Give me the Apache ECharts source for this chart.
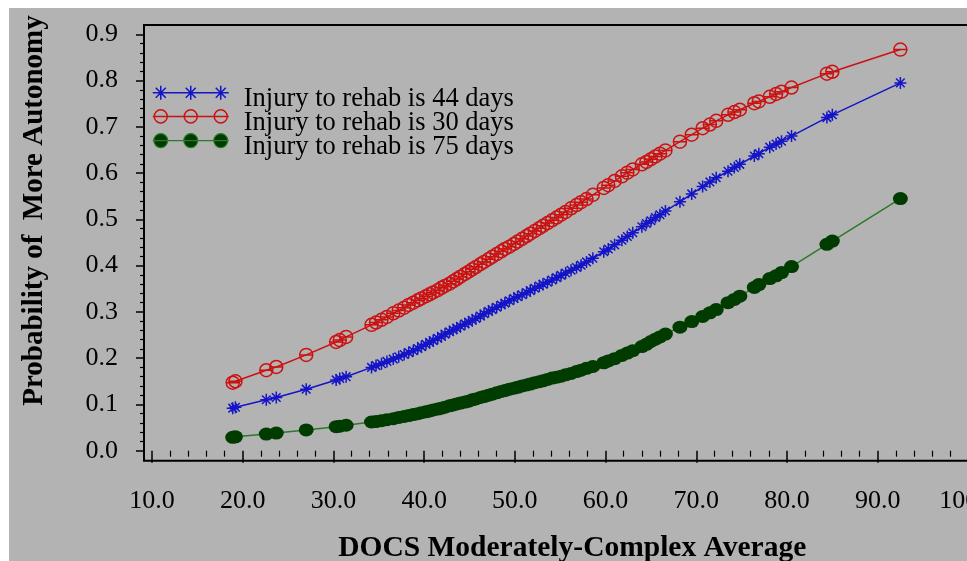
<!DOCTYPE html>
<html>
<head>
<meta charset="utf-8">
<script src="https://cdn.jsdelivr.net/npm/echarts@6/dist/echarts.min.js"></script>
<style>
  html, body { margin: 0; padding: 0; background: #ffffff; }
  #wrap { position: relative; width: 967px; height: 561px; background: #ffffff; overflow: hidden; }
  #bg { position: absolute; left: 9px; top: 8px; width: 958px; height: 553px; background: #b3b3b3; }
  #chart { position: absolute; left: 0; top: 0; width: 967px; height: 561px; }
</style>
</head>
<body>
<div id="wrap"><div id="bg"></div><div id="chart"></div></div>
<script>
// DOCS Moderately-Complex Average (shared x values)
const xValues = [18.9, 19.2, 22.6, 23.7, 27.0, 30.3, 30.7, 31.4, 34.2, 34.7, 35.3, 35.9, 36.6, 37.2, 37.8, 38.3, 38.8, 39.3, 39.7, 40.2,
  40.6, 41.0, 41.5, 41.9, 42.3, 42.8, 43.2, 43.6, 44.0, 44.5, 44.9, 45.3, 45.7, 46.2, 46.6, 47.1, 47.5, 48.0, 48.5, 48.9,
  49.4, 49.9, 50.3, 50.8, 51.3, 51.7, 52.2, 52.7, 53.1, 53.6, 54.1, 54.6, 55.1, 55.6, 56.2, 56.8, 57.3, 57.9, 58.6, 59.8,
  60.3, 61.0, 61.8, 62.4, 63.0, 64.0, 64.5, 65.0, 65.5, 66.0, 66.6, 68.2, 69.5, 70.7, 71.5, 72.2, 73.5, 74.2, 74.8, 76.4,
  76.9, 78.1, 78.8, 79.4, 80.5, 84.4, 85.0, 92.5];
// Injury to rehab is 44 days
const prob44 = [0.092, 0.094, 0.110, 0.115, 0.133, 0.153, 0.156, 0.160, 0.180, 0.184, 0.188, 0.193, 0.198, 0.203, 0.208, 0.212, 0.216, 0.221, 0.225, 0.230,
  0.234, 0.238, 0.243, 0.247, 0.252, 0.257, 0.261, 0.265, 0.269, 0.274, 0.278, 0.282, 0.286, 0.291, 0.296, 0.301, 0.305, 0.310, 0.315, 0.319,
  0.324, 0.329, 0.333, 0.337, 0.342, 0.346, 0.351, 0.356, 0.360, 0.364, 0.369, 0.374, 0.379, 0.384, 0.390, 0.396, 0.401, 0.408, 0.416, 0.430,
  0.436, 0.445, 0.455, 0.463, 0.471, 0.484, 0.491, 0.497, 0.504, 0.510, 0.518, 0.538, 0.555, 0.571, 0.581, 0.590, 0.604, 0.612, 0.619, 0.637,
  0.642, 0.656, 0.663, 0.669, 0.680, 0.720, 0.726, 0.795];
// Injury to rehab is 30 days
const prob30 = [0.147, 0.150, 0.174, 0.181, 0.207, 0.235, 0.239, 0.246, 0.272, 0.277, 0.283, 0.289, 0.297, 0.303, 0.309, 0.315, 0.320, 0.325, 0.329, 0.334,
  0.338, 0.342, 0.347, 0.352, 0.356, 0.361, 0.366, 0.371, 0.376, 0.382, 0.387, 0.392, 0.397, 0.403, 0.408, 0.414, 0.419, 0.425, 0.431, 0.436,
  0.441, 0.447, 0.452, 0.458, 0.464, 0.469, 0.475, 0.481, 0.486, 0.492, 0.498, 0.504, 0.510, 0.516, 0.524, 0.531, 0.537, 0.544, 0.553, 0.568,
  0.574, 0.583, 0.593, 0.601, 0.608, 0.619, 0.624, 0.630, 0.636, 0.642, 0.649, 0.668, 0.683, 0.697, 0.705, 0.713, 0.726, 0.732, 0.737, 0.751,
  0.755, 0.765, 0.771, 0.776, 0.785, 0.815, 0.819, 0.867];
// Injury to rehab is 75 days
const prob75 = [0.029, 0.030, 0.036, 0.038, 0.045, 0.052, 0.053, 0.055, 0.062, 0.063, 0.065, 0.067, 0.069, 0.072, 0.074, 0.076, 0.078, 0.080, 0.082, 0.084,
  0.086, 0.088, 0.090, 0.092, 0.094, 0.097, 0.099, 0.101, 0.103, 0.105, 0.107, 0.110, 0.112, 0.115, 0.117, 0.120, 0.122, 0.125, 0.128, 0.130,
  0.133, 0.135, 0.137, 0.140, 0.142, 0.144, 0.147, 0.149, 0.151, 0.154, 0.157, 0.159, 0.161, 0.164, 0.167, 0.171, 0.174, 0.178, 0.182, 0.190,
  0.194, 0.199, 0.206, 0.211, 0.216, 0.225, 0.230, 0.236, 0.241, 0.246, 0.252, 0.267, 0.279, 0.290, 0.298, 0.305, 0.320, 0.327, 0.334, 0.353,
  0.359, 0.372, 0.378, 0.385, 0.398, 0.446, 0.453, 0.545];
const seriesNames = ['Injury to rehab is 44 days', 'Injury to rehab is 30 days', 'Injury to rehab is 75 days'];
const xTitle = 'DOCS Moderately-Complex Average';
const yTitle = 'Probability of  More Autonomy';

const FONT = '"Liberation Serif", "Times New Roman", serif';
const BLUE = '#1414c8';
const RED = '#cc1111';
const GREEN_DOT = '#003c00';
const GREEN_LINE = '#2a7a2a';

const starPath = 'path://M7,0L7,14M0,7L14,7M2,2L12,12M12,2L2,12';
const circLinePath = 'path://M0.5,7A6.5,6.5 0 1,1 13.5,7A6.5,6.5 0 1,1 0.5,7ZM0.5,7L13.5,7';

// legend icons: drawn in the top 14px of a 76x26 box so the label sits a little lower
function legendStars() {
  let d = 'M0,7L76,7';
  [8, 38, 68].forEach(function (c) {
    d += 'M' + c + ',0L' + c + ',14M' + (c - 7) + ',7L' + (c + 7) + ',7M' + (c - 5) + ',2L' + (c + 5) + ',12M' + (c + 5) + ',2L' + (c - 5) + ',12';
  });
  return 'path://' + d + 'M0,26';
}
function legendCircles() {
  let d = 'M0,7L76,7';
  [8, 38, 68].forEach(function (c) {
    d += 'M' + (c - 6.5) + ',7A6.5,6.5 0 1,1 ' + (c + 6.5) + ',7A6.5,6.5 0 1,1 ' + (c - 6.5) + ',7Z';
  });
  return 'path://' + d + 'M0,26';
}
function legendDots() {
  let d = 'M0,7L76,7';
  [8, 38, 68].forEach(function (c) {
    d += 'M' + (c - 7) + ',7A7,7 0 1,1 ' + (c + 7) + ',7A7,7 0 1,1 ' + (c - 7) + ',7Z';
  });
  return 'path://' + d + 'M0,26';
}

function pairs(ys) { return xValues.map(function (x, i) { return [x, ys[i]]; }); }

const chart = echarts.init(document.getElementById('chart'), null, { renderer: 'canvas' });
chart.setOption({
  animation: false,
  backgroundColor: 'transparent',
  textStyle: { fontFamily: FONT },
  grid: [
    { left: 152, right: -1.4, top: 34.3, bottom: 110.3, containLabel: false, outerBoundsMode: 'none' },
    { left: 144, right: -20, top: 25, bottom: 100.3, show: true, borderColor: '#000', borderWidth: 2, backgroundColor: 'transparent', outerBoundsMode: 'none' }
  ],
  legend: {
    orient: 'vertical',
    left: 152,
    top: 85,
    padding: 0,
    itemGap: -3.5,
    itemWidth: 76,
    itemHeight: 26,
    symbolKeepAspect: false,
    selectedMode: false,
    textStyle: { fontFamily: FONT, fontSize: 26.5, color: '#000', lineHeight: 24, padding: [0, 0, 0, 10] },
    data: [
      { name: seriesNames[0], icon: legendStars(), itemStyle: { color: 'rgba(0,0,0,0)', borderColor: BLUE, borderWidth: 1.5 } },
      { name: seriesNames[1], icon: legendCircles(), itemStyle: { color: 'rgba(0,0,0,0)', borderColor: RED, borderWidth: 1.5 } },
      { name: seriesNames[2], icon: legendDots(), itemStyle: { color: GREEN_DOT, borderColor: GREEN_LINE, borderWidth: 1.2 } }
    ]
  },
  xAxis: [
    {
      type: 'value', gridIndex: 0, min: 10, max: 100, interval: 10, offset: 10,
      axisLine: { show: false },
      axisTick: { show: true, inside: false, length: 12, lineStyle: { color: '#000', width: 1.5 } },
      minorTick: { show: true, splitNumber: 5, length: 6, lineStyle: { color: '#000', width: 1.2 } },
      splitLine: { show: false },
      axisLabel: { margin: 27, fontFamily: FONT, fontSize: 26, color: '#000', formatter: function (v) { return v.toFixed(1); } },
      name: xTitle, nameLocation: 'middle', nameGap: 73,
      nameTextStyle: { fontFamily: FONT, fontSize: 29.5, fontWeight: 'bold', color: '#000', padding: [0, 0, 0, 24] }
    },
    { type: 'value', gridIndex: 1, show: false, min: 0, max: 1 }
  ],
  yAxis: [
    {
      type: 'value', gridIndex: 0, min: 0, max: 0.9, interval: 0.1, offset: 8,
      axisLine: { show: false },
      axisTick: { show: true, inside: false, length: 8, lineStyle: { color: '#000', width: 1.5 } },
      minorTick: { show: true, splitNumber: 5, length: 4, lineStyle: { color: '#000', width: 1.2 } },
      splitLine: { show: false },
      axisLabel: { margin: 26, fontFamily: FONT, fontSize: 26, color: '#000', formatter: function (v) { return v.toFixed(1); } },
      name: yTitle, nameLocation: 'middle', nameGap: 95,
      nameTextStyle: { fontFamily: FONT, fontSize: 29, fontWeight: 'bold', color: '#000', padding: [0, 0, 0, 64] }
    },
    { type: 'value', gridIndex: 1, show: false, min: 0, max: 1 }
  ],
  series: [
    {
      name: seriesNames[0], type: 'line', xAxisIndex: 0, yAxisIndex: 0,
      data: pairs(prob44),
      symbol: starPath, symbolSize: 12, showAllSymbol: true,
      itemStyle: { color: 'rgba(0,0,0,0)', borderColor: BLUE, borderWidth: 1.5 },
      lineStyle: { color: BLUE, width: 1.5 },
      z: 3
    },
    {
      name: seriesNames[1], type: 'line', xAxisIndex: 0, yAxisIndex: 0,
      data: pairs(prob30),
      symbol: circLinePath, symbolSize: 13, showAllSymbol: true,
      itemStyle: { color: 'rgba(0,0,0,0)', borderColor: RED, borderWidth: 1.5 },
      lineStyle: { color: RED, width: 1.5 },
      z: 3
    },
    {
      name: seriesNames[2], type: 'line', xAxisIndex: 0, yAxisIndex: 0,
      data: pairs(prob75),
      symbol: 'circle', symbolSize: [15, 13], showAllSymbol: true,
      itemStyle: { color: GREEN_DOT, borderWidth: 0 },
      lineStyle: { color: GREEN_LINE, width: 1.5 },
      z: 3
    }
  ]
});
</script>
</body>
</html>
